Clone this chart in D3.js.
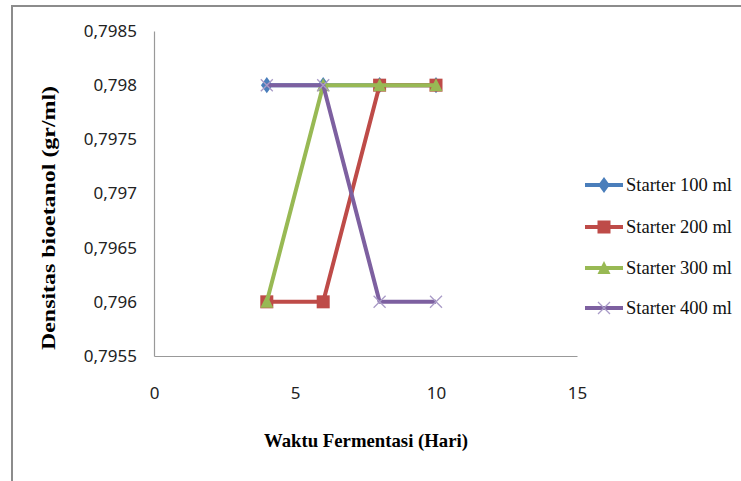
<!DOCTYPE html>
<html>
<head>
<meta charset="utf-8">
<script src="https://cdn.jsdelivr.net/npm/d3@7"></script>
<style>
  html, body { margin: 0; padding: 0; background: #fff; }
  svg { display: block; }
</style>
</head>
<body>
<div id="chart"></div>
<script>
// ---- data ----
const days = [4, 6, 8, 10];
const seriesNames = ["Starter 100 ml", "Starter 200 ml", "Starter 300 ml", "Starter 400 ml"];
const starter100 = [0.798, 0.798, 0.798, 0.798];
const starter200 = [0.796, 0.796, 0.798, 0.798];
const starter300 = [0.796, 0.798, 0.798, 0.798];
const starter400 = [0.798, 0.798, 0.796, 0.796];
const yTicks = [0.7955, 0.796, 0.7965, 0.797, 0.7975, 0.798, 0.7985];
const xTicks = [0, 5, 10, 15];
const xTitle = "Waktu Fermentasi (Hari)";
const yTitle = "Densitas bioetanol (gr/ml)";

const colors = ["#4A7EBB", "#BE4B48", "#98B954", "#7D60A0"];
const markers = ["diamond", "square", "triangle", "cross"];
const allValues = [starter100, starter200, starter300, starter400];

const W = 741, H = 481;
const svg = d3.select("#chart").append("svg").attr("width", W).attr("height", H);

// outer frame
svg.append("path")
  .attr("d", `M12,${H + 2} L12,6 L${W + 2},6`)
  .attr("fill", "none").attr("stroke", "#8c8c8c").attr("stroke-width", 2);

const plot = { left: 154, right: 577, top: 31, bottom: 356 };
const x = d3.scaleLinear().domain([0, 15]).range([plot.left, plot.right]);
const y = d3.scaleLinear().domain([0.7955, 0.7985]).range([plot.bottom, plot.top]);

const fmt = v => String(+v.toFixed(4)).replace(".", ",");

// axes
const yAxis = d3.axisLeft(y).tickValues(yTicks).tickSize(0).tickPadding(17).tickFormat(fmt);
const gy = svg.append("g").attr("transform", `translate(${plot.left},0)`).call(yAxis);
gy.select(".domain").attr("stroke", "#999").attr("stroke-width", 1.2);
gy.selectAll("text").attr("font-family", "Noto Sans, sans-serif").attr("font-size", 17).attr("fill", "#222");

const xAxis = d3.axisBottom(x).tickValues(xTicks).tickSize(0).tickPadding(31).tickFormat(d3.format("d"));
const gx = svg.append("g").attr("transform", `translate(0,${plot.bottom})`).call(xAxis);
gx.select(".domain").attr("stroke", "#999").attr("stroke-width", 1.2);
gx.selectAll("text").attr("font-family", "Noto Sans, sans-serif").attr("font-size", 17).attr("fill", "#222");

// axis titles
svg.append("text")
  .attr("x", 366).attr("y", 447)
  .attr("text-anchor", "middle")
  .attr("font-family", "Liberation Serif, serif").attr("font-weight", "bold").attr("font-size", 19)
  .attr("textLength", 204).attr("lengthAdjust", "spacingAndGlyphs")
  .text(xTitle);

svg.append("text")
  .attr("transform", `translate(55,${218}) rotate(-90)`)
  .attr("text-anchor", "middle")
  .attr("font-family", "Liberation Serif, serif").attr("font-weight", "bold").attr("font-size", 19)
  .attr("textLength", 264).attr("lengthAdjust", "spacingAndGlyphs")
  .text(yTitle);

// marker drawing
function drawMarker(g, type, color, cx, cy) {
  if (type === "diamond") {
    g.append("path").attr("d", d3.symbol().type(d3.symbolDiamond).size(75)())
      .attr("transform", `translate(${cx},${cy}) scale(1.25,1)`).attr("fill", color);
  } else if (type === "square") {
    g.append("rect").attr("x", cx - 6.5).attr("y", cy - 6.5).attr("width", 13).attr("height", 13).attr("fill", color);
  } else if (type === "triangle") {
    g.append("path").attr("d", `M${cx},${cy - 7} L${cx + 6.5},${cy + 6} L${cx - 6.5},${cy + 6} Z`).attr("fill", color);
  } else {
    g.append("path").attr("d", `M${cx - 6},${cy - 6} L${cx + 6},${cy + 6} M${cx - 6},${cy + 6} L${cx + 6},${cy - 6}`)
      .attr("stroke", "#a99bc7").attr("stroke-width", 1.3).attr("fill", "none");
  }
}

const line = d3.line().x(d => x(d[0])).y(d => y(d[1]));

allValues.forEach((vals, i) => {
  const g = svg.append("g");
  const pts = days.map((d, j) => [d, vals[j]]);
  g.append("path").datum(pts).attr("d", line)
    .attr("fill", "none").attr("stroke", colors[i]).attr("stroke-width", 4).attr("stroke-linejoin", "round");
  pts.forEach(p => drawMarker(g, markers[i], colors[i], x(p[0]), y(p[1])));
});

// legend
const legY = [185, 227, 268, 308];
seriesNames.forEach((name, i) => {
  const g = svg.append("g");
  g.append("line").attr("x1", 585).attr("x2", 623).attr("y1", legY[i]).attr("y2", legY[i])
    .attr("stroke", colors[i]).attr("stroke-width", 4);
  drawMarker(g, markers[i], colors[i], 604, legY[i]);
  g.append("text").attr("x", 626).attr("y", legY[i] + 6)
    .attr("font-family", "Liberation Serif, serif").attr("font-size", 19)
    .attr("textLength", 106).attr("lengthAdjust", "spacingAndGlyphs")
    .attr("fill", "#111")
    .text(name);
});
</script>
</body>
</html>
